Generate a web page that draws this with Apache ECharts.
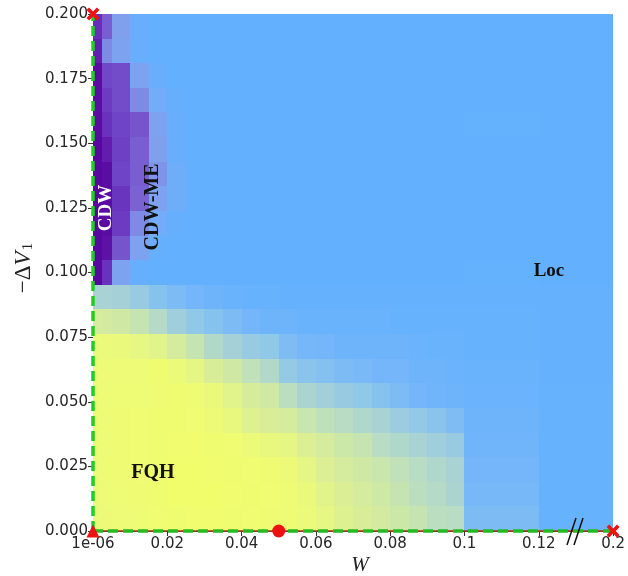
<!DOCTYPE html>
<html>
<head>
<meta charset="utf-8">
<script src="https://cdn.jsdelivr.net/npm/echarts@6/dist/echarts.min.js"></script>
<style>html,body{margin:0;padding:0;background:#fff;}#c{width:628px;height:576px;}</style>
</head>
<body>
<div id="c"></div>
<script>
// ---- data ----
// column edges in W (last two columns are the wide 0.1-0.12 and 0.12-0.2 blocks)
const wEdges = [0, 0.0025, 0.005, 0.01, 0.015, 0.02, 0.025, 0.03, 0.035, 0.04, 0.045, 0.05,
  0.055, 0.06, 0.065, 0.07, 0.075, 0.08, 0.085, 0.09, 0.095, 0.1, 0.12, 0.2];
// row edges in -ΔV1 (21 rows)
const vEdges = [0, 0.0095, 0.0190, 0.0286, 0.0381, 0.0476, 0.0571, 0.0667, 0.0762, 0.0857,
  0.0952, 0.1048, 0.1143, 0.1238, 0.1333, 0.1429, 0.1524, 0.1619, 0.1714, 0.1810, 0.1905, 0.2];
// phase value per cell: -1 = CDW (purple), 0 = Loc (blue), +1 = FQH (yellow); rows listed top (V=0.2) to bottom (V=0)
const phaseRows = [
  [-0.72,-0.45,-0.25,-0.05,0,0,0,0,0,0,0,0,0,0,0,0,0,0,0,0,0,0,0],
  [-0.8,-0.3,-0.22,-0.05,0,0,0,0,0,0,0,0,0,0,0,0,0,0,0,0,0,0,0],
  [-0.95,-0.58,-0.55,-0.22,-0.05,0,0,0,0,0,0,0,0,0,0,0,0,0,0,0,0,0,0],
  [-0.95,-0.65,-0.55,-0.3,-0.12,-0.03,0,0,0,0,0,0,0,0,0,0,0,0,0,0,0,0,0],
  [-0.97,-0.7,-0.6,-0.5,-0.22,-0.05,0,0,0,0,0,0,0,0,0,0,0,0,0,0,0,0.01,0],
  [-1,-0.82,-0.62,-0.45,-0.25,-0.05,0,0,0,0,0,0,0,0,0,0,0,0,0,0,0,0,0],
  [-1,-0.95,-0.6,-0.45,-0.28,-0.1,0,0,0,0,0,0,0,0,0,0,0,0,0,0,0,0,0],
  [-1,-0.95,-0.68,-0.42,-0.22,-0.1,0,0,0,0,0,0,0,0,0,0,0,0,0,0,0,0,0],
  [-1,-0.95,-0.65,-0.3,-0.12,-0.03,0,0,0,0,0,0,0,0,0,0,0,0,0,0,0,0,0],
  [-1,-0.9,-0.5,-0.22,-0.03,0,0,0,0,0,0,0,0,0,0,0,0,0,0,0,0,0,0],
  [-1,-0.7,-0.22,-0.03,0,0,0,0,0,0,0,0,0,0,0,0,0,0,0,0,0,0.01,0],
  [0.4,0.4,0.38,0.3,0.2,0.15,0.1,0.06,0.04,0.03,0.03,0.02,0.02,0.02,0.02,0.02,0.02,0.02,0.02,0.02,0.02,0.02,0.02],
  [0.72,0.7,0.66,0.58,0.48,0.35,0.25,0.2,0.15,0.1,0.07,0.07,0.04,0.04,0.04,0.04,0.04,0.03,0.03,0.03,0.03,0.03,0.02],
  [0.92,0.92,0.9,0.86,0.82,0.72,0.58,0.46,0.38,0.3,0.25,0.16,0.11,0.1,0.07,0.06,0.06,0.06,0.05,0.04,0.04,0.03,0.02],
  [0.94,0.94,0.94,0.94,0.98,0.92,0.85,0.76,0.66,0.55,0.46,0.28,0.22,0.19,0.15,0.13,0.1,0.1,0.07,0.06,0.05,0.04,0.02],
  [0.95,0.95,0.95,0.95,0.96,0.98,0.95,0.9,0.82,0.74,0.66,0.52,0.42,0.36,0.3,0.25,0.2,0.15,0.1,0.08,0.06,0.05,0.03],
  [0.95,0.95,0.96,0.97,0.98,0.98,0.97,0.93,0.88,0.8,0.76,0.72,0.6,0.54,0.5,0.45,0.4,0.32,0.27,0.22,0.16,0.06,0.03],
  [0.95,0.95,0.96,0.97,0.98,0.99,0.99,0.98,0.97,0.92,0.88,0.85,0.78,0.72,0.62,0.58,0.5,0.45,0.4,0.35,0.3,0.08,0.03],
  [0.94,0.95,0.96,0.97,0.98,1,1,0.99,0.98,0.97,0.96,0.93,0.85,0.78,0.72,0.66,0.6,0.55,0.5,0.45,0.4,0.1,0.03],
  [0.93,0.94,0.95,0.96,0.98,1,1,1,0.99,0.98,0.97,0.95,0.9,0.82,0.77,0.72,0.65,0.58,0.52,0.48,0.42,0.12,0.03],
  [0.92,0.93,0.94,0.95,0.97,0.98,0.99,0.99,0.98,0.97,0.96,0.95,0.92,0.86,0.8,0.76,0.7,0.62,0.58,0.52,0.5,0.15,0.03]
];
const xTickLabels = ['1e-06', '0.02', '0.04', '0.06', '0.08', '0.1', '0.12', '0.2'];
const yTickLabels = ['0.000', '0.025', '0.050', '0.075', '0.100', '0.125', '0.150', '0.175', '0.200'];
// special points (red markers)
const markW = [1e-6, 1e-6, 0.05, 0.2];
const markV = [0.2, 0, 0, 0];
const markShape = ['cross', 'triangle', 'circle', 'cross'];
// phase boundary (green dashed)
const boundaryLeft = [[1e-6, 0], [1e-6, 0.2]];
const boundaryBottom = [[1e-6, 0], [0.2, 0]];

// ---- axis break: W in [0.12, 0.2] is compressed ----
function wx(w) { return w <= 0.12 ? w : 0.12 + (w - 0.12) / 4; }

const cellData = [];
const nRows = phaseRows.length;
phaseRows.forEach((row, t) => {
  const r = nRows - 1 - t;
  row.forEach((val, c) => {
    cellData.push([wEdges[c], wEdges[c + 1], vEdges[r], vEdges[r + 1], val]);
  });
});

const crossPath = 'path://M0,4 L4,0 L10,6 L16,0 L20,4 L14,10 L20,16 L16,20 L10,14 L4,20 L0,16 L6,10 Z';
const markData = markW.map((w, i) => ({
  value: [wx(w), markV[i]],
  symbol: markShape[i] === 'cross' ? crossPath : markShape[i],
  symbolSize: markShape[i] === 'cross' ? 13 : (markShape[i] === 'triangle' ? 13 : 13)
}));

const chart = echarts.init(document.getElementById('c'), null, {renderer: 'canvas'});
const tickFont = {fontFamily: 'DejaVu Sans', fontSize: 15, color: '#262626'};
const option = {
  animation: false,
  backgroundColor: '#ffffff',
  grid: {left: 93, right: 13, top: 14, bottom: 45, containLabel: false},
  xAxis: [{
    type: 'value', min: 0, max: 0.14, interval: 0.02,
    axisLine: {show: false},
    axisTick: {show: true, length: 5, lineStyle: {color: '#333', width: 1}},
    splitLine: {show: false},
    axisLabel: Object.assign({margin: 6, formatter: v => xTickLabels[Math.round(v / 0.02)]}, tickFont)
  }, {
    type: 'value', min: 0, max: 0.14, position: 'top',
    axisLine: {show: true, lineStyle: {color: '#444', width: 1}},
    axisTick: {show: false}, axisLabel: {show: false}, splitLine: {show: false}
  }],
  yAxis: [{
    type: 'value', min: 0, max: 0.2, interval: 0.025,
    axisLine: {show: false},
    axisTick: {show: true, length: 5, lineStyle: {color: '#333', width: 1}},
    splitLine: {show: false},
    axisLabel: Object.assign({margin: 5, formatter: v => yTickLabels[Math.round(v / 0.025)]}, tickFont)
  }, {
    type: 'value', min: 0, max: 0.2, position: 'right',
    axisLine: {show: true, lineStyle: {color: '#444', width: 1}},
    axisTick: {show: false}, axisLabel: {show: false}, splitLine: {show: false}
  }],
  visualMap: {
    show: false, type: 'continuous', seriesIndex: 0, dimension: 4, min: -1, max: 1,
    inRange: {color: ['#5808a0', '#5e14a8', '#6628b6', '#6e40c4', '#7654cc', '#7a6cd6', '#80a0ee', '#74acf8',
      '#62b0fe', '#78b8f8', '#90c8e8', '#a4d0d8', '#b8dcc4', '#cce8a8', '#d8ec9a', '#e8f880', '#f2fd6c']}
  },
  series: [{
    type: 'custom',
    data: cellData,
    encode: {x: [0, 1], y: [2, 3]},
    z: 1,
    renderItem: function (params, api) {
      const p0 = api.coord([wx(api.value(0)), api.value(3)]);
      const p1 = api.coord([wx(api.value(1)), api.value(2)]);
      const x = Math.round(p0[0]), y = Math.round(p0[1]);
      return {
        type: 'rect',
        shape: {x: x, y: y, width: Math.round(p1[0]) - x, height: Math.round(p1[1]) - y},
        style: {fill: api.visual('color')}
      };
    }
  }, {
    type: 'line', z: 3, clip: false, symbol: 'none',
    data: boundaryBottom.map(p => [wx(p[0]), p[1]]),
    lineStyle: {color: '#b03020', width: 1.5}
  }, {
    type: 'line', z: 4, clip: false, symbol: 'none',
    data: boundaryLeft.map(p => [wx(p[0]), p[1]]),
    lineStyle: {color: '#22cc22', width: 3.5, type: [10, 5]}
  }, {
    type: 'line', z: 4, clip: false, symbol: 'none',
    data: boundaryBottom.map(p => [wx(p[0]), p[1]]),
    lineStyle: {color: '#22bb22', width: 3.5, type: [10, 5]}
  }, {
    type: 'scatter', z: 6, clip: false,
    data: markData,
    itemStyle: {color: '#ee1111', opacity: 1}
  }],
  graphic: [
    {type: 'text', x: 106, y: 208, rotation: Math.PI / 2, z: 10,
      style: {text: 'CDW', fill: '#ffffff', font: 'bold 19px "Liberation Serif"', align: 'center', verticalAlign: 'middle'}},
    {type: 'text', x: 153, y: 207, rotation: Math.PI / 2, z: 10,
      style: {text: 'CDW-ME', fill: '#111111', font: 'bold 20px "Liberation Serif"', align: 'center', verticalAlign: 'middle'}},
    {type: 'text', x: 549, y: 271, z: 10,
      style: {text: 'Loc', fill: '#111111', font: 'bold 19px "Liberation Serif"', align: 'center', verticalAlign: 'middle'}},
    {type: 'text', x: 153, y: 473, z: 10,
      style: {text: 'FQH', fill: '#111111', font: 'bold 20px "Liberation Serif"', align: 'center', verticalAlign: 'middle'}},
    {type: 'text', x: 360, y: 565, z: 10,
      style: {text: 'W', fill: '#222222', font: 'italic 21px "Liberation Serif"', align: 'center', verticalAlign: 'middle'}},
    {type: 'text', x: 24, y: 268, rotation: Math.PI / 2, z: 10,
      style: {
        text: '{a|−Δ}{b|V}{c|1}', align: 'center', verticalAlign: 'middle',
        rich: {
          a: {font: '23px "Liberation Serif"', fill: '#222'},
          b: {font: 'italic 23px "Liberation Serif"', fill: '#222'},
          c: {font: '15px "Liberation Serif"', fill: '#222', padding: [9, 0, 0, 1]}
        }
      }},
    {type: 'line', z: 10, shape: {x1: 567, y1: 545, x2: 576, y2: 518}, style: {stroke: '#111', lineWidth: 1.5}},
    {type: 'line', z: 10, shape: {x1: 574, y1: 545, x2: 583, y2: 518}, style: {stroke: '#111', lineWidth: 1.5}}
  ]
};
chart.setOption(option);
</script>
</body>
</html>
